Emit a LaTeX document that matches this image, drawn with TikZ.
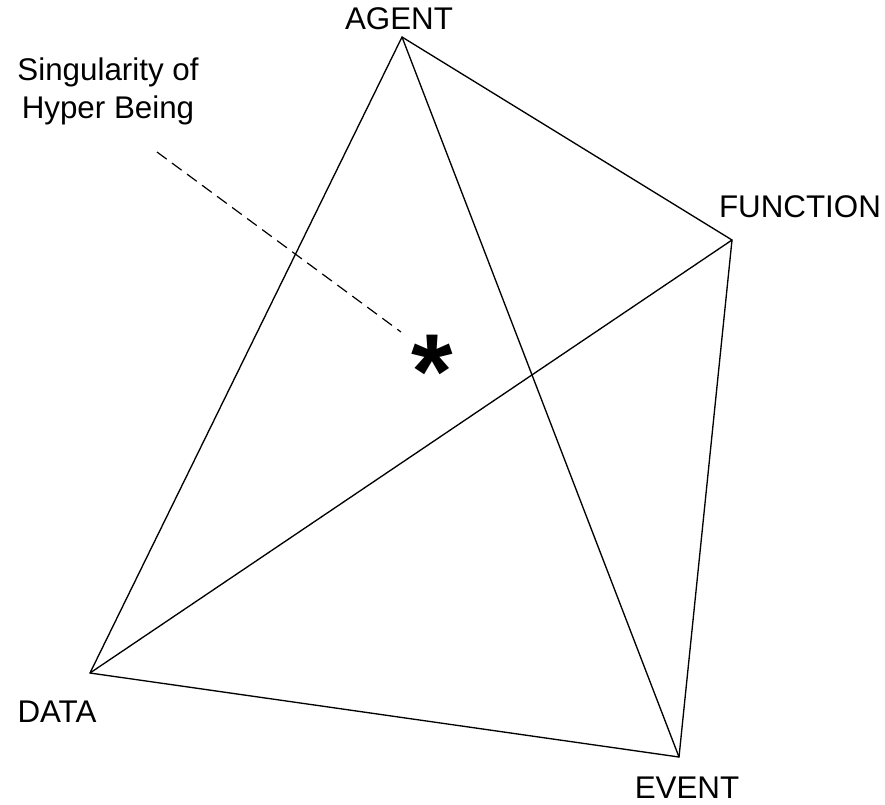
\documentclass[tikz,border=0pt]{standalone}
\usepackage{fontspec}
\setmainfont{Liberation Sans}
\begin{document}
\begin{tikzpicture}[x=0.75pt,y=-0.75pt,
  edge/.style={line width=1pt,line cap=round,line join=round},
  lbl/.style={anchor=base,inner sep=0pt,font=\fontsize{23.5}{28.5}\selectfont},
  leader/.style={line width=0.9pt,dash pattern=on 9pt off 5pt}]
\useasboundingbox (0,0) rectangle (885,804);
% vertices of the tetrahedron
\coordinate (agent) at (402,37);
\coordinate (function) at (732,240);
\coordinate (data) at (90,673);
\coordinate (event) at (679,757);
% edges
\draw[edge] (agent) -- (function) -- (event) -- (data) -- cycle;
\draw[edge] (agent) -- (event);
\draw[edge] (function) -- (data);
% vertex labels
\node[lbl] (tA) at (399,29) {AGENT};
\node[lbl] (tF) at (800,217) {FUNCTION};
\node[lbl] (tD) at (57,722) {DATA};
\node[lbl] (tE) at (687,798) {EVENT};
% singular point with its leader
\node[inner sep=0pt,font=\bfseries\fontsize{80}{80}\selectfont] (star) at (432,372) {*};
\node[lbl] (sing1) at (108,80) {Singularity of};
\node[lbl] (sing2) at (108,118) {Hyper Being};
\coordinate (leadA) at (157,152);
\coordinate (leadB) at (401,332);
\draw[leader] (leadA) -- (leadB);
\end{tikzpicture}
\end{document}
